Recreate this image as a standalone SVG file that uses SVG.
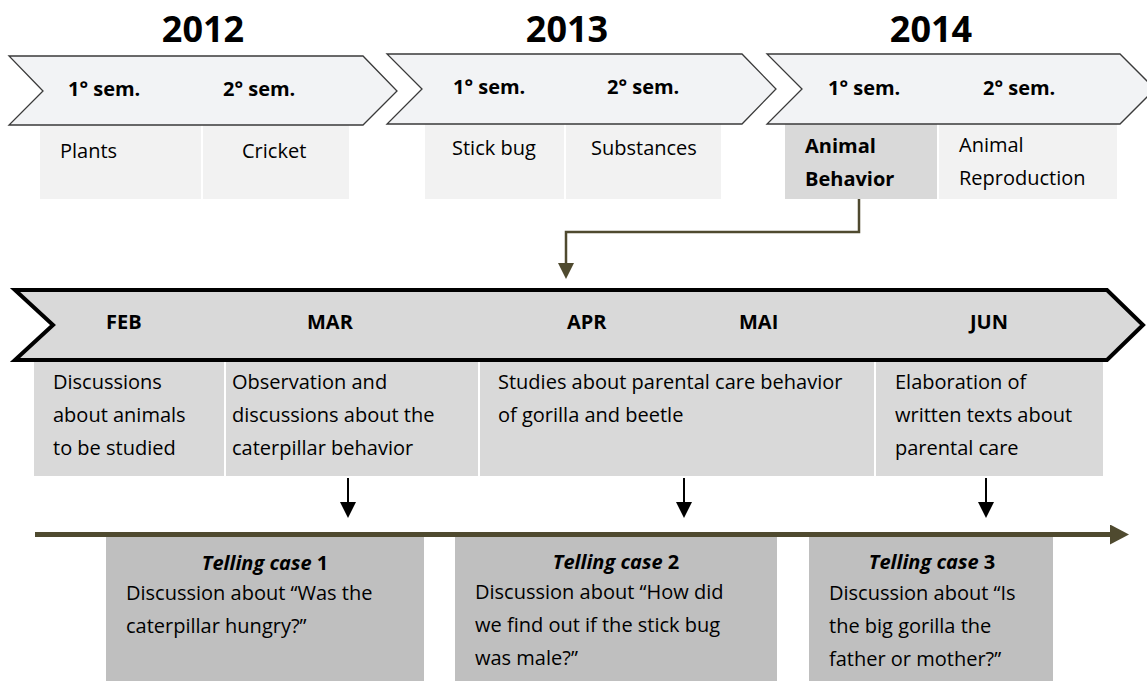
<svg xmlns="http://www.w3.org/2000/svg" width="1147" height="681" viewBox="0 0 1147 681">
<style>
text{font-family:"Open Sans","Noto Sans","Liberation Sans",sans-serif;fill:#000}
.yr{font-size:36px;font-weight:bold;text-anchor:middle}
.sem{font-size:20px;font-weight:bold}
.t{font-size:20px}
.b{font-size:20px;font-weight:bold}
.ttl{font-size:20px;font-weight:bold;text-anchor:middle}
.chev{fill:#F2F3F5;stroke:#3a3a3a;stroke-width:1.3}
.light{fill:#F2F2F2}
.mid{fill:#D9D9D9}
.dark{fill:#BFBFBF}
.olive{stroke:#4F4A2F;fill:none}
</style>
<defs>
<marker id="ab" markerUnits="userSpaceOnUse" viewBox="0 0 16 16" markerWidth="16" markerHeight="16" refX="8" refY="8" orient="auto"><path d="M0,0 L16,8 L0,16 z" fill="#000"/></marker>
<marker id="ao" markerUnits="userSpaceOnUse" viewBox="0 0 16 16" markerWidth="16" markerHeight="16" refX="1" refY="8" orient="auto"><path d="M0,0 L16,8 L0,16 z" fill="#4F4A2F"/></marker>
<marker id="at" markerUnits="userSpaceOnUse" viewBox="0 0 19 20" markerWidth="19" markerHeight="20" refX="1" refY="10" orient="auto"><path d="M0,0 L19,10 L0,20 z" fill="#4F4A2F"/></marker>
</defs>

<g id="year2012">
<text class="yr" x="203" y="42">2012</text>
<rect class="light" x="40" y="125" width="161" height="74"/>
<rect class="light" x="203" y="125" width="146" height="74"/>
<polygon class="chev" points="9,56 363,56 397,91 363,125 9,125 43,91"/>
<text class="sem" x="68" y="96">1° sem.</text>
<text class="sem" x="223" y="96">2° sem.</text>
<text class="t" x="60" y="158">Plants</text>
<text class="t" x="242" y="158">Cricket</text>
</g>

<g id="year2013">
<text class="yr" x="567" y="42">2013</text>
<rect class="light" x="425" y="124" width="139" height="75"/>
<rect class="light" x="566" y="124" width="155" height="75"/>
<polygon class="chev" points="387,54 742,54 776,89 742,124 387,124 422,89"/>
<text class="sem" x="453" y="94">1° sem.</text>
<text class="sem" x="607" y="94">2° sem.</text>
<text class="t" x="452" y="155">Stick bug</text>
<text class="t" x="591" y="155">Substances</text>
</g>

<g id="year2014">
<text class="yr" x="931" y="42">2014</text>
<rect class="mid" x="785" y="124" width="152" height="75"/>
<rect class="light" x="939" y="124" width="178" height="75"/>
<polygon class="chev" points="767,54 1120,54 1155,89 1120,124 767,124 802,89"/>
<text class="sem" x="828" y="95">1° sem.</text>
<text class="sem" x="983" y="95">2° sem.</text>
<text class="b" x="805" y="153">Animal</text>
<text class="b" x="805" y="186">Behavior</text>
<text class="t" x="959" y="152">Animal</text>
<text class="t" x="959" y="185">Reproduction</text>
</g>

<g id="months">
<rect class="mid" x="34" y="358" width="190" height="118"/>
<rect class="mid" x="226" y="358" width="252" height="118"/>
<rect class="mid" x="480" y="358" width="394" height="118"/>
<rect class="mid" x="876" y="358" width="227" height="118"/>
<polygon points="15,290 1107,290 1143,325 1107,360 15,360 53,325" fill="#D9D9D9" stroke="#000" stroke-width="4" stroke-linejoin="miter"/>
<text class="sem" x="106" y="329">FEB</text>
<text class="sem" x="307" y="329">MAR</text>
<text class="sem" x="567" y="329">APR</text>
<text class="sem" x="739" y="329">MAI</text>
<text class="sem" x="970" y="329">JUN</text>
</g>

<g id="activity1">
<text class="t" x="53" y="389">Discussions</text>
<text class="t" x="53" y="422">about animals</text>
<text class="t" x="53" y="455">to be studied</text>
</g>
<g id="activity2">
<text class="t" x="232" y="389">Observation and</text>
<text class="t" x="232" y="422">discussions about the</text>
<text class="t" x="232" y="455">caterpillar behavior</text>
</g>
<g id="activity3">
<text class="t" x="498" y="389">Studies about parental care behavior</text>
<text class="t" x="498" y="422">of gorilla and beetle</text>
</g>
<g id="activity4">
<text class="t" x="895" y="389">Elaboration of</text>
<text class="t" x="895" y="422">written texts about</text>
<text class="t" x="895" y="455">parental care</text>
</g>

<g id="case1">
<rect class="dark" x="106" y="537" width="318" height="144"/>
<text class="ttl" x="265" y="570"><tspan font-style="italic">Telling case</tspan> 1</text>
<text class="t" x="126" y="600">Discussion about “Was the</text>
<text class="t" x="126" y="633">caterpillar hungry?”</text>
</g>
<g id="case2">
<rect class="dark" x="455" y="537" width="322" height="144"/>
<text class="ttl" x="616" y="569"><tspan font-style="italic">Telling case</tspan> 2</text>
<text class="t" x="475" y="599">Discussion about “How did</text>
<text class="t" x="475" y="632">we find out if the stick bug</text>
<text class="t" x="475" y="665">was male?”</text>
</g>
<g id="case3">
<rect class="dark" x="809" y="537" width="244" height="144"/>
<text class="ttl" x="932" y="569"><tspan font-style="italic">Telling case</tspan> 3</text>
<text class="t" x="829" y="600">Discussion about “Is</text>
<text class="t" x="829" y="633">the big gorilla the</text>
<text class="t" x="829" y="666">father or mother?”</text>
</g>

<g id="connectors">
<polyline class="olive" points="859,199 859,232 566,232 566,264" stroke-width="2.5" marker-end="url(#ao)"/>
<line x1="35" y1="534.5" x2="1111" y2="534.5" class="olive" stroke-width="5" marker-end="url(#at)"/>
<line x1="348" y1="478" x2="348" y2="510" stroke="#000" stroke-width="2" marker-end="url(#ab)"/>
<line x1="684" y1="478" x2="684" y2="510" stroke="#000" stroke-width="2" marker-end="url(#ab)"/>
<line x1="986" y1="478" x2="986" y2="510" stroke="#000" stroke-width="2" marker-end="url(#ab)"/>
</g>
</svg>
